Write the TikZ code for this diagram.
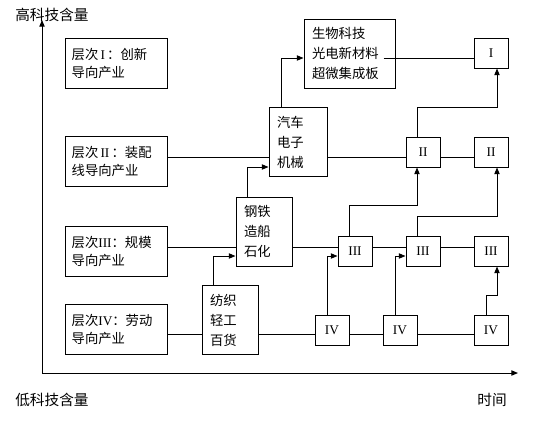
\documentclass[tikz,border=0pt]{standalone}
\usepackage{fontspec}
\setmainfont{Liberation Serif}
\newfontfamily\cjk{Noto Sans CJK SC}
\usetikzlibrary{positioning,calc,arrows.meta}

\begin{document}
\begin{tikzpicture}[x=0.75pt,y=-0.75pt,line width=0.75pt,
    lvbox/.style={draw,align=left,inner xsep=5pt,text width=66.5pt,minimum height=37.5pt,font=\cjk\fontsize{10}{13.5}\selectfont},
    tbox/.style={draw,align=left,inner xsep=6pt,minimum height=51.75pt,font=\cjk\fontsize{10}{15}\selectfont},
    rbox/.style={draw,minimum width=25.5pt,minimum height=22.5pt,inner sep=0pt,font=\rmfamily\fontsize{10}{12}\selectfont},
    axlabel/.style={font=\cjk\fontsize{11}{13}\selectfont},
    arr/.style={-{Triangle[length=5pt,width=4pt]}}]
    \useasboundingbox (0,0) rectangle (536,425);

    % Axes
    \coordinate (O) at (42,373);
    \coordinate (ytip) at (42,20);
    \coordinate (xtip) at (518,373);
    \draw[arr] (O) -- (ytip);
    \draw[arr] (O) -- (xtip);
    \node[axlabel] (hi) at (52,15) {高科技含量};
    \node[axlabel] (lo) at (52,400) {低科技含量};
    \node[axlabel] (time) at (492,400) {时间};

    % Levels
    \node[lvbox] (lvI) at (116,63) {层次\,{\rmfamily I}\,：创新\\导向产业};
    \node[lvbox] (lvII) at (116,161.5) {层次\,{\rmfamily II}\,：装配\\线导向产业};
    \node[lvbox] (lvIII) at (116,251) {层次{\rmfamily III}：规模\\导向产业};
    \node[lvbox] (lvIV) at (116,329.5) {层次{\rmfamily IV}：劳动\\导向产业};

    % Industries
    \node[tbox,text width=30pt] (fangzhi) at (230,320) {纺织\\轻工\\百货};
    \node[tbox,text width=30pt] (gangtie) at (264,231.5) {钢铁\\造船\\石化};
    \node[tbox,text width=31.5pt] (qiche) at (298,142) {汽车\\电子\\机械};
    \node[tbox,text width=56.25pt] (shengwu) at (349.5,53.5) {生物科技\\光电新材料\\超微集成板};

    % Stages
    \node[rbox] (Ia) at (491,53) {I};
    \node[rbox] (IIa) at (423,152) {II};
    \node[rbox] (IIb) at (491,152) {II};
    \node[rbox] (IIIa) at (355,251) {III};
    \node[rbox] (IIIb) at (423,251) {III};
    \node[rbox] (IIIc) at (491,251) {III};
    \node[rbox] (IVa) at (332,330.5) {IV};
    \node[rbox] (IVb) at (400,330.5) {IV};
    \node[rbox] (IVc) at (491,330.5) {IV};

    % Rows
    \coordinate (rowI) at (0,58);
    \coordinate (rowII) at (0,157);
    \coordinate (rowIII) at (0,247);
    \coordinate (rowIV) at (0,334);
    \draw ($(shengwu.east |- rowI)+(-12,0)$) -- (Ia.west |- rowI);
    \foreach \a/\b in {lvII/qiche, qiche/IIa, IIa/IIb}
        \draw (\a.east |- rowII) -- (\b.west |- rowII);
    \foreach \a/\b in {lvIII/gangtie, gangtie/IIIa, IIIa/IIIb, IIIb/IIIc}
        \draw (\a.east |- rowIII) -- (\b.west |- rowIII);
    \foreach \a/\b in {lvIV/fangzhi, fangzhi/IVa, IVa/IVb, IVb/IVc}
        \draw (\a.east |- rowIV) -- (\b.west |- rowIV);

    % Upgrades
    \draw[arr] ($(fangzhi.north)+(-17,0)$) |- ($(gangtie.west)+(0,24.5)$);
    \draw[arr] ($(gangtie.north)+(-17,0)$) |- ($(qiche.west)+(0,25)$);
    \draw[arr] ($(qiche.north)+(-17,0)$) |- ($(shengwu.west)+(0,4.5)$);
    \draw[arr] ($(IVa.north)+(-5,0)$) |- ($(IIIa.west)+(0,5)$);
    \draw[arr] ($(IVb.north)+(-5,0)$) |- ($(IIIb.west)+(0,5)$);
    \draw[arr] ($(IVc.north)+(-5,0)$) -- ++(0,-20) -| ($(IIIc.south)+(6,0)$);
    \draw[arr] ($(IIIa.north)+(-6,0)$) -- ++(0,-30) -| ($(IIa.south)+(-6,0)$);
    \draw[arr] ($(IIIb.north)+(-6,0)$) -- ++(0,-19) -| ($(IIb.south)+(6,0)$);
    \draw[arr] ($(IIa.north)+(-6,0)$) -- ++(0,-29) -| ($(Ia.south)+(6,0)$);
\end{tikzpicture}
\end{document}
